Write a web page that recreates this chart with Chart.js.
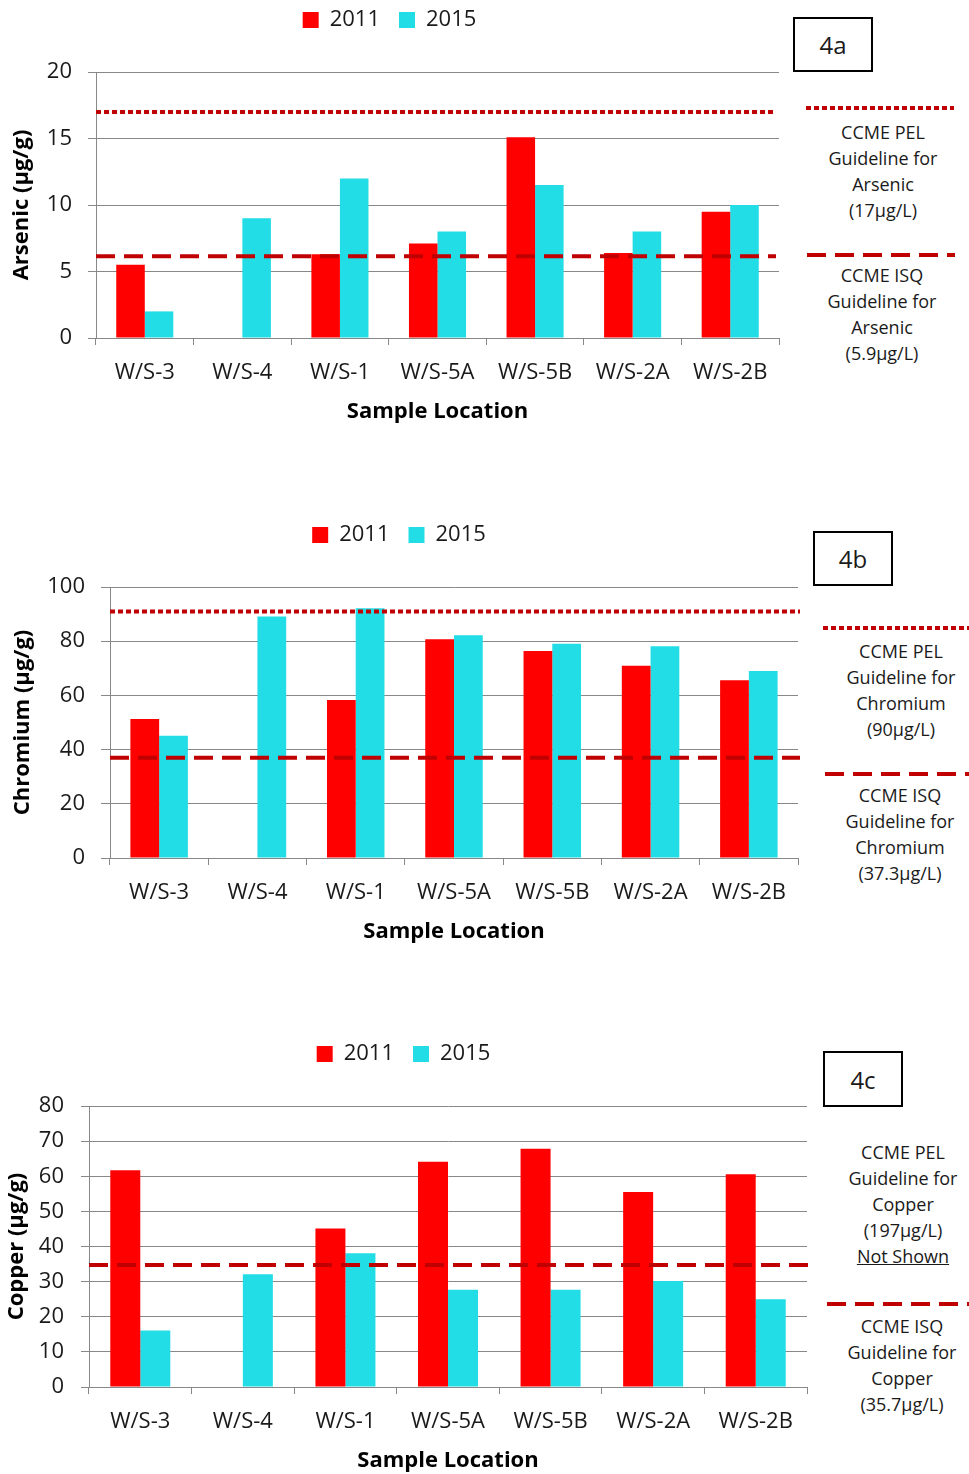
<!DOCTYPE html>
<html>
<head>
<meta charset="utf-8">
<script src="https://cdn.jsdelivr.net/npm/chart.js@4.4.1/dist/chart.umd.min.js"></script>
<style>
  body { margin: 0; width: 969px; height: 1474px; position: relative; overflow: hidden; background: #fff; font-family: "Open Sans", sans-serif; color: #1a1a1a; }
  .wrap { position: absolute; left: 0; }
  .box { position: absolute; border: 2px solid #000; box-sizing: border-box; font-size: 24px; display: flex; align-items: center; justify-content: center; }
  .note { position: absolute; width: 170px; margin-left: -85px; text-align: center; font-size: 18px; line-height: 26px; }
  svg.key { position: absolute; overflow: visible; }
</style>
</head>
<body>

<div class="wrap" id="wrapA"><canvas id="chartA"></canvas></div>
<div class="wrap" id="wrapB"><canvas id="chartB"></canvas></div>
<div class="wrap" id="wrapC"><canvas id="chartC"></canvas></div>

<!-- 4a side notes -->
<div class="box" style="left:793px;top:17px;width:80px;height:55px">4a</div>
<svg class="key" style="left:806px;top:104px" width="148" height="8"><line x1="0" y1="4" x2="148" y2="4" stroke="#C00000" stroke-width="4" stroke-dasharray="5 3"/></svg>
<div class="note" style="left:883px;top:119px">CCME PEL<br>Guideline for<br>Arsenic<br>(17µg/L)</div>
<svg class="key" style="left:807px;top:251px" width="148" height="8"><line x1="0" y1="4" x2="148" y2="4" stroke="#C00000" stroke-width="4" stroke-dasharray="19 9"/></svg>
<div class="note" style="left:882px;top:262px">CCME ISQ<br>Guideline for<br>Arsenic<br>(5.9µg/L)</div>

<!-- 4b side notes -->
<div class="box" style="left:813px;top:531px;width:80px;height:55px">4b</div>
<svg class="key" style="left:823px;top:624px" width="146" height="8"><line x1="0" y1="4" x2="146" y2="4" stroke="#C00000" stroke-width="4" stroke-dasharray="5 3"/></svg>
<div class="note" style="left:901px;top:638px">CCME PEL<br>Guideline for<br>Chromium<br>(90µg/L)</div>
<svg class="key" style="left:825px;top:770px" width="144" height="8"><line x1="0" y1="4" x2="144" y2="4" stroke="#C00000" stroke-width="4" stroke-dasharray="19 9"/></svg>
<div class="note" style="left:900px;top:782px">CCME ISQ<br>Guideline for<br>Chromium<br>(37.3µg/L)</div>

<!-- 4c side notes -->
<div class="box" style="left:823px;top:1051px;width:80px;height:56px">4c</div>
<div class="note" style="left:903px;top:1139px">CCME PEL<br>Guideline for<br>Copper<br>(197µg/L)<br><u>Not Shown</u></div>
<svg class="key" style="left:827px;top:1300px" width="142" height="8"><line x1="0" y1="4" x2="142" y2="4" stroke="#C00000" stroke-width="4" stroke-dasharray="19 9"/></svg>
<div class="note" style="left:902px;top:1313px">CCME ISQ<br>Guideline for<br>Copper<br>(35.7µg/L)</div>

<script>
// Data
const locations = ["W/S-3", "W/S-4", "W/S-1", "W/S-5A", "W/S-5B", "W/S-2A", "W/S-2B"];
const years = ["2011", "2015"];

const arsenic2011 = [5.5, null, 6.3, 7.1, 15.1, 6.4, 9.5];
const arsenic2015 = [2.0, 9.0, 12.0, 8.0, 11.5, 8.0, 10.0];
const chromium2011 = [51.3, null, 58.3, 80.7, 76.4, 70.9, 65.6];
const chromium2015 = [45.1, 89.1, 92.2, 82.2, 79.1, 78.1, 69.0];
const copper2011 = [61.7, null, 45.1, 64.1, 67.8, 55.5, 60.6];
const copper2015 = [16.1, 32.1, 38.1, 27.7, 27.7, 30.2, 25.0];

// guideline levels as drawn (PEL dotted, ISQ dashed)
const arsenicPEL = 17, arsenicISQ = 6.15;
const chromiumPEL = 91, chromiumISQ = 37;
const copperISQ = 34.7;

const RED = "#FF0000";
const CYAN = "#22DCE6";
const GUIDE = "#C00000";
const GRID = "#888888";
const DOTTED = [5, 3];
const DASHED = [19, 9];

Chart.defaults.font.family = "'Open Sans', sans-serif";
Chart.defaults.color = "#1a1a1a";

// guideline lines across the plot
const guidePlugin = {
  id: "guides",
  afterDatasetsDraw(chart, args, opts) {
    const { ctx, chartArea, scales: { y } } = chart;
    opts.lines.forEach(g => {
      const py = y.getPixelForValue(g.value);
      ctx.save();
      ctx.strokeStyle = GUIDE;
      ctx.lineWidth = 4;
      ctx.setLineDash(g.dash);
      ctx.beginPath();
      ctx.moveTo(chartArea.left, py);
      ctx.lineTo(chartArea.right + opts.extend, py);
      ctx.stroke();
      ctx.restore();
    });
  }
};

// fixed legend block height so plot top lands where it should
const legendHeight = {
  id: "legendHeight",
  beforeInit(chart, args, opts) {
    const fit = chart.legend.fit;
    chart.legend.fit = function () { fit.call(this); this.height = opts.height; };
  }
};

function makeChart(id, wrapId, cfg) {
  const wrap = document.getElementById(wrapId);
  wrap.style.top = cfg.top + "px";
  wrap.style.width = cfg.width + "px";
  wrap.style.height = cfg.height + "px";

  return new Chart(document.getElementById(id), {
    type: "bar",
    data: {
      labels: locations,
      datasets: [
        { label: years[0], data: cfg.d2011, backgroundColor: RED, borderWidth: 0 },
        { label: years[1], data: cfg.d2015, backgroundColor: CYAN, borderWidth: 0 },
      ],
    },
    options: {
      responsive: true,
      maintainAspectRatio: false,
      animation: false,
      datasets: { bar: { categoryPercentage: 0.585, barPercentage: 1 } },
      layout: { padding: { top: 0, left: 0, bottom: 0, right: cfg.padRight } },
      plugins: {
        tooltip: { enabled: false },
        legend: {
          position: "top",
          labels: { boxWidth: 16, boxHeight: 16, padding: 19, font: { size: 22 }, color: "#1a1a1a" },
        },
        legendHeight: { height: cfg.legendH },
        guides: { lines: cfg.guides, extend: cfg.extend },
      },
      scales: {
        x: {
          grid: { display: true, drawOnChartArea: false, drawTicks: true, tickLength: 7, color: GRID, offset: true },
          border: { color: GRID },
          ticks: { font: { size: 22 }, padding: 15, maxRotation: 0, autoSkip: false, color: "#1a1a1a" },
          title: { display: true, text: "Sample Location", color: "#000", font: { size: 22, weight: "bold" }, padding: { top: 0, bottom: 0 } },
          afterFit: s => { s.height = cfg.xHeight; },
        },
        y: {
          min: 0,
          max: cfg.max,
          ticks: { stepSize: cfg.step, font: { size: 22 }, padding: cfg.tickPad, color: "#1a1a1a" },
          grid: { color: GRID, tickLength: cfg.tickLen },
          border: { color: GRID },
          title: { display: true, text: cfg.yTitle, color: "#000", font: { size: 22, weight: "bold" }, padding: { top: cfg.titlePad, bottom: 0 } },
          afterFit: s => { s.width = cfg.yWidth; },
        },
      },
    },
    plugins: [guidePlugin, legendHeight],
  });
}

// 4a - arsenic
makeChart("chartA", "wrapA", {
  top: -10, width: 790, height: 435, padRight: 11, legendH: 82, xHeight: 87, yWidth: 96,
  max: 20, step: 5, tickPad: 16, tickLen: 8, titlePad: 9,
  yTitle: "Arsenic (µg/g)", d2011: arsenic2011, d2015: arsenic2015, extend: -3,
  guides: [{ value: arsenicPEL, dash: DOTTED }, { value: arsenicISQ, dash: DASHED }],
});

// 4b - chromium
makeChart("chartB", "wrapB", {
  top: 505, width: 808, height: 440, padRight: 10, legendH: 82, xHeight: 87, yWidth: 110,
  max: 100, step: 20, tickPad: 16, tickLen: 9, titlePad: 10,
  yTitle: "Chromium (µg/g)", d2011: chromium2011, d2015: chromium2015, extend: 2,
  guides: [{ value: chromiumPEL, dash: DOTTED }, { value: chromiumISQ, dash: DASHED }],
});

// 4c - copper
makeChart("chartC", "wrapC", {
  top: 1024, width: 815, height: 450, padRight: 8, legendH: 82, xHeight: 87, yWidth: 89,
  max: 80, step: 10, tickPad: 17, tickLen: 8, titlePad: 4,
  yTitle: "Copper (µg/g)", d2011: copper2011, d2015: copper2015, extend: 5,
  guides: [{ value: copperISQ, dash: DASHED }],
});
</script>
</body>
</html>
